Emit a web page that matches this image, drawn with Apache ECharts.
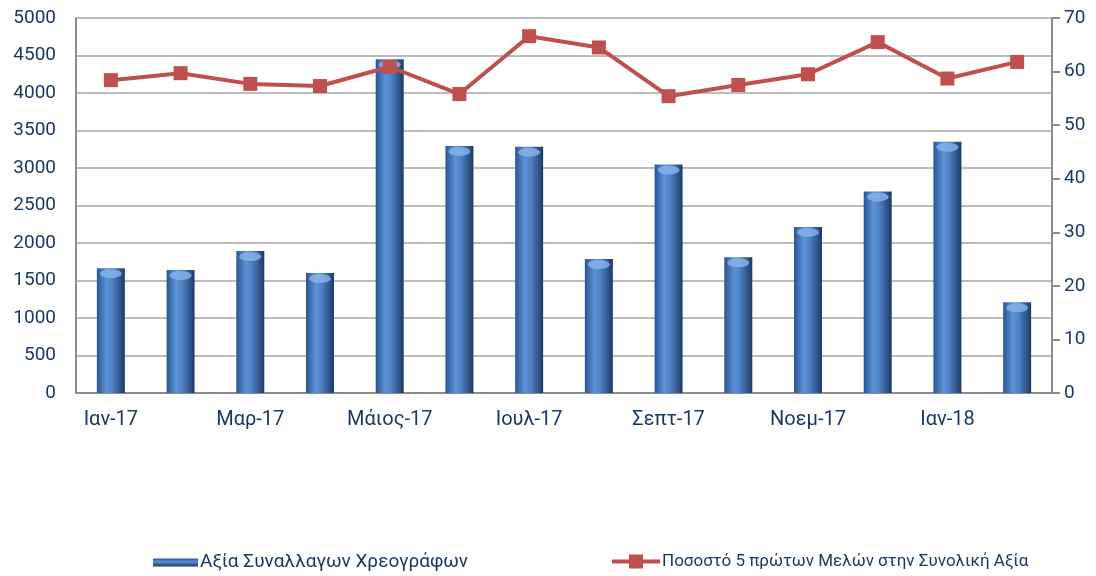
<!DOCTYPE html>
<html>
<head>
<meta charset="utf-8">
<script src="https://cdn.jsdelivr.net/npm/echarts@6/dist/echarts.min.js"></script>
<style>html,body{margin:0;padding:0;background:#fff}#c{width:1096px;height:576px}</style>
</head>
<body>
<div id="c"></div>
<script>
const categories = ['Ιαν-17','Φεβ-17','Μαρ-17','Απρ-17','Μάιος-17','Ιουν-17','Ιουλ-17','Αυγ-17','Σεπτ-17','Οκτ-17','Νοεμ-17','Δεκ-17','Ιαν-18','Φεβ-18'];
const barName = 'Αξία Συναλλαγων Χρεογράφων';
const lineName = 'Ποσοστό 5 πρώτων Μελών στην Συνολική Αξία';
const barValues = [1665, 1640, 1893, 1600, 4450, 3295, 3282, 1787, 3047, 1810, 2215, 2688, 3350, 1210];
const lineValues = [58.4, 59.7, 57.7, 57.3, 60.9, 55.8, 66.6, 64.5, 55.4, 57.5, 59.5, 65.5, 58.7, 61.8];
const leftTicks = {min: 0, max: 5000, interval: 500};
const rightTicks = {min: 0, max: 70, interval: 10};

const txt = '#1b3a63';
const barGrad = new echarts.graphic.LinearGradient(0, 0, 1, 0, [
  {offset: 0, color: '#2a5590'},
  {offset: 0.35, color: '#5d93d8'},
  {offset: 0.55, color: '#4f82c6'},
  {offset: 1, color: '#1c3a66'}
]);
const legendGrad = new echarts.graphic.LinearGradient(0, 0, 0, 1, [
  {offset: 0, color: '#2c5590'},
  {offset: 0.4, color: '#5d8fd0'},
  {offset: 1, color: '#1c3a66'}
]);
const chart = echarts.init(document.getElementById('c'), null, {renderer: 'canvas'});
chart.setOption({
  animation: false,
  backgroundColor: '#fff',
  grid: {left: 76, right: 44, top: 18, bottom: 183, containLabel: false},
  legend: [
    {data: [{name: barName, icon: 'rect', itemStyle: {color: legendGrad}}], left: 148, top: 548, itemWidth: 45, itemHeight: 8, itemGap: 0,
     textStyle: {color: txt, fontSize: 19, padding: [0, 0, 0, -3], fontFamily: 'Roboto, sans-serif'}},
    {data: [{name: lineName, icon: 'path://M0,5H17V0H31V5H48V9H31V14H17V9H0Z'}], left: 607, top: 548, itemWidth: 48, itemHeight: 14,
     textStyle: {color: txt, fontSize: 17, padding: [0, 0, 0, -3], fontFamily: 'Roboto, sans-serif'}}
  ],
  xAxis: {
    type: 'category', data: categories, boundaryGap: true,
    axisLine: {lineStyle: {color: '#8c8c8c', width: 2}},
    axisTick: {show: false},
    axisLabel: {interval: 1, color: txt, fontSize: 20, margin: 17, fontFamily: 'Roboto, sans-serif'}
  },
  yAxis: [
    {type: 'value', min: leftTicks.min, max: leftTicks.max, interval: leftTicks.interval,
     axisLine: {show: true, lineStyle: {color: '#8c8c8c', width: 2}},
     axisTick: {show: false},
     axisLabel: {color: txt, fontSize: 19, margin: 20, fontFamily: 'Roboto, sans-serif', formatter: v => String(v)},
     splitLine: {lineStyle: {color: '#a6a6a6', width: 1.5}}},
    {type: 'value', min: rightTicks.min, max: rightTicks.max, interval: rightTicks.interval, position: 'right',
     axisLine: {show: true, lineStyle: {color: '#8c8c8c', width: 2}},
     axisTick: {show: true, length: 8, lineStyle: {color: '#8c8c8c', width: 2}},
     axisLabel: {color: txt, fontSize: 19, margin: 12, fontFamily: 'Roboto, sans-serif', formatter: v => String(v)},
     splitLine: {show: false}}
  ],
  series: [
    {name: barName, type: 'bar', data: barValues, barWidth: 28, yAxisIndex: 0,
     itemStyle: {color: barGrad}},
    {name: 'cap', type: 'pictorialBar', data: barValues, yAxisIndex: 0, symbol: 'circle',
     symbolSize: [22, 9], symbolPosition: 'end', symbolOffset: [0, 1], z: 3,
     itemStyle: {color: '#8ab4ec', opacity: 0.8}, silent: true},
    {name: lineName, type: 'line', data: lineValues, yAxisIndex: 1,
     symbol: 'rect', symbolSize: 14, lineStyle: {color: '#c0504d', width: 4},
     itemStyle: {color: '#c0504d'}, z: 5}
  ]
});
</script>
</body>
</html>
